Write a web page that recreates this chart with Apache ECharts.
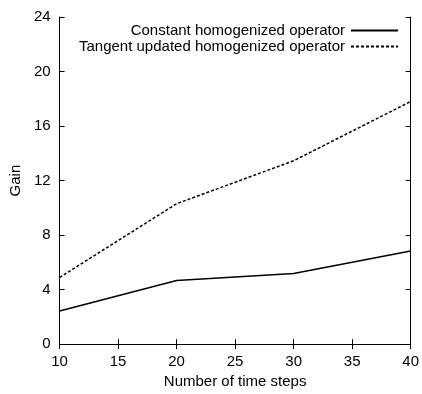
<!DOCTYPE html>
<html>
<head>
<meta charset="utf-8">
<script src="https://cdn.jsdelivr.net/npm/echarts@6/dist/echarts.min.js"></script>
<style>
html,body{margin:0;padding:0;background:#fff;}
#chart{width:422px;height:394px;}
</style>
</head>
<body>
<div id="chart"></div>
<script>
// Number of time steps
const steps = [10, 20, 30, 40];
// Gain for each operator strategy
const constantGain = [2.43, 4.67, 5.18, 6.83];
const tangentGain = [4.89, 10.3, 13.45, 17.8];
const seriesNames = ['Constant homogenized operator', 'Tangent updated homogenized operator'];

const font = 'Liberation Sans, Arial, Helvetica, sans-serif';
const fontSize = 15;
const axisCommon = {
  axisLine: { show: true, lineStyle: { color: '#000', width: 1 } },
  axisTick: { show: true, inside: true, length: 5, lineStyle: { color: '#000' } },
  splitLine: { show: false },
  axisLabel: { color: '#000', fontFamily: font, fontSize: fontSize }
};

const chart = echarts.init(document.getElementById('chart'));
chart.setOption({
  animation: false,
  backgroundColor: '#fff',
  grid: { left: 57, right: 11, top: 17, bottom: 48, containLabel: false },
  legend: {
    orient: 'vertical',
    align: 'right',
    right: 18,
    top: 18,
    itemWidth: 47,
    itemHeight: 14,
    itemGap: 1,
    itemStyle: { opacity: 0 },
    textStyle: { color: '#000', fontFamily: font, fontSize: fontSize, padding: [0, 1, 0, 0] },
    data: seriesNames
  },
  xAxis: [
    Object.assign({}, axisCommon, {
      type: 'value', min: 10, max: 40, interval: 5, position: 'bottom',
      name: 'Number of time steps', nameLocation: 'middle', nameGap: 28,
      nameTextStyle: { color: '#000', fontFamily: font, fontSize: fontSize },
      axisLabel: Object.assign({}, axisCommon.axisLabel, { margin: 10 })
    }),
    Object.assign({}, axisCommon, {
      type: 'value', min: 10, max: 40, interval: 5, position: 'top',
      axisLabel: { show: false }
    })
  ],
  yAxis: [
    Object.assign({}, axisCommon, {
      type: 'value', min: 0, max: 24, interval: 4, position: 'left',
      name: 'Gain', nameLocation: 'middle', nameGap: 36,
      nameTextStyle: { color: '#000', fontFamily: font, fontSize: fontSize },
      axisLabel: Object.assign({}, axisCommon.axisLabel, { margin: 9 })
    }),
    Object.assign({}, axisCommon, {
      type: 'value', min: 0, max: 24, interval: 4, position: 'right',
      axisLabel: { show: false }
    })
  ],
  series: [
    {
      name: seriesNames[0], type: 'line', symbol: 'none',
      data: steps.map((s, i) => [s, constantGain[i]]),
      lineStyle: { color: '#000', width: 1.6, type: 'solid' },
      itemStyle: { color: '#000' }
    },
    {
      name: seriesNames[1], type: 'line', symbol: 'none',
      data: steps.map((s, i) => [s, tangentGain[i]]),
      lineStyle: { color: '#000', width: 1.5, type: [3, 2] },
      itemStyle: { color: '#000' }
    }
  ]
});
</script>
</body>
</html>
